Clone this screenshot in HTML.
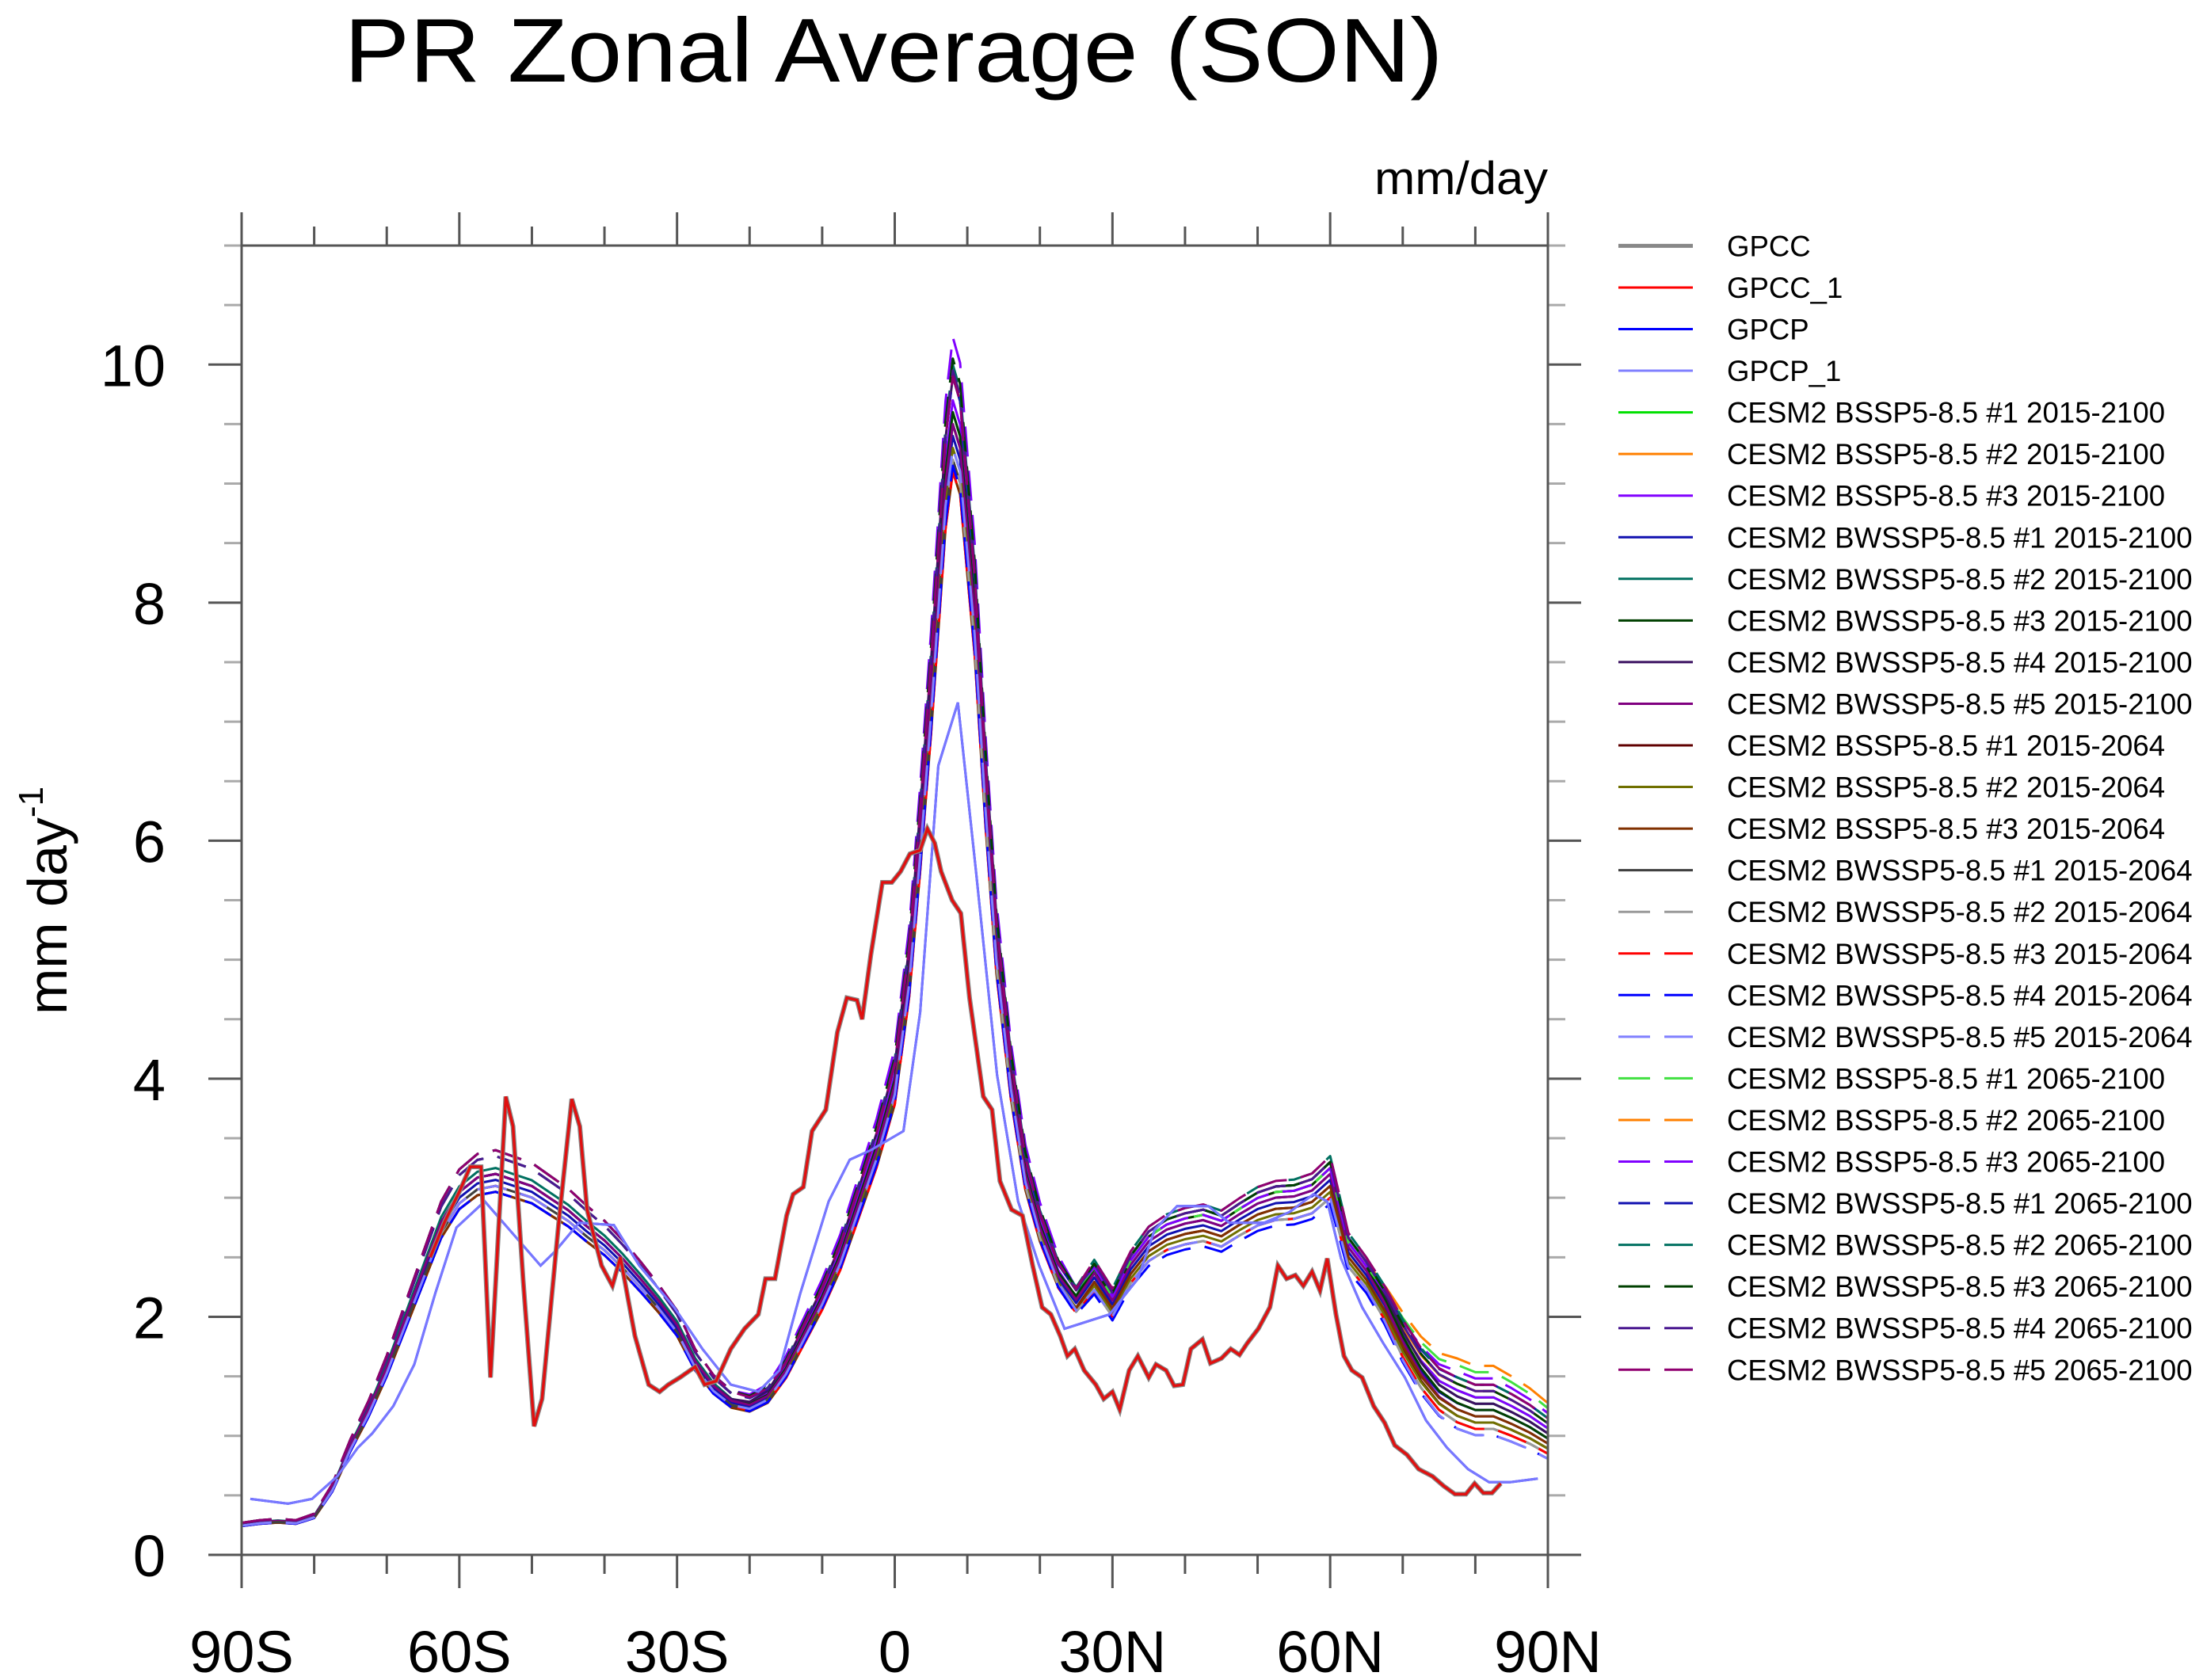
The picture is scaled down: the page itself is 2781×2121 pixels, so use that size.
<!DOCTYPE html>
<html><head><meta charset="utf-8"><title>PR Zonal Average (SON)</title>
<style>html,body{margin:0;padding:0;background:#fff}svg{display:block}text{font-family:"Liberation Sans",Arial,sans-serif;fill:#000}</style>
</head><body>
<svg id="chart" xmlns="http://www.w3.org/2000/svg" width="2781" height="2121" viewBox="0 0 2781 2121">
<rect x="0" y="0" width="2781" height="2121" fill="#fff"/>
<text x="1128" y="103" font-size="114" text-anchor="middle" textLength="1387" lengthAdjust="spacingAndGlyphs">PR Zonal Average (SON)</text>
<text x="1954" y="245" font-size="58" text-anchor="end" textLength="219" lengthAdjust="spacingAndGlyphs">mm/day</text>
<text transform="translate(84,1137) rotate(-90)" font-size="70" text-anchor="middle">mm day<tspan font-size="44" dy="-30">-1</tspan></text>
<defs><clipPath id="plotclip"><rect x="305" y="310" width="1649" height="1653"/></clipPath></defs>
<g id="axes"></g>
<g id="series" clip-path="url(#plotclip)"></g>
<rect x="305" y="310" width="1649" height="1653" fill="none" stroke="#555" stroke-width="3"/>
<g id="legend"></g>
</svg>
<script>
const NS = "http://www.w3.org/2000/svg";
// ---- data ----
const yTicks = [0, 2, 4, 6, 8, 10];
const yTickLabels = ["0", "2", "4", "6", "8", "10"];
const xTicks = [-90, -60, -30, 0, 30, 60, 90];
const xTickLabels = ["90S", "60S", "30S", "0", "30N", "60N", "90N"];

const gpccLat = [-64,-62,-60,-58.5,-57,-55.7,-53.6,-52.6,-51.2,-49.7,-48.6,-46.3,-44.5,-43.4,-42.4,-40.4,-38.9,-37.8,-35.8,-33.9,-32.4,-31.2,-29.6,-27.5,-26.2,-24.6,-22.6,-20.7,-18.8,-17.8,-16.5,-14.9,-14,-12.6,-11.4,-9.5,-7.9,-6.6,-5.2,-4.5,-3.3,-1.7,-0.4,0.8,2.1,3.5,4.5,5.5,6.4,7.9,9.1,10.3,12.2,13.4,14.5,16.1,17.6,19,20.3,21.5,22.8,23.8,24.8,26.1,27.7,28.8,30,31,32.3,33.5,35,36,37.4,38.5,39.7,40.8,42.4,43.5,45,46.3,47.5,48.6,50.1,51.7,52.8,54,55.2,56.3,57.5,58.6,59.6,60.8,61.9,63,64.4,66,67.5,68.9,70.6,72.2,74.1,75.6,77.2,78.7,79.9,81.1,82.3,83.5];
const gpccVal = [2.5,2.8,3.05,3.26,3.26,1.49,3.85,3.6,2.3,1.08,1.31,2.79,3.83,3.6,2.9,2.43,2.26,2.5,1.84,1.43,1.37,1.43,1.49,1.58,1.43,1.46,1.73,1.9,2.02,2.32,2.32,2.85,3.03,3.09,3.56,3.74,4.39,4.68,4.66,4.5,5.04,5.65,5.65,5.74,5.89,5.92,6.1,5.98,5.74,5.5,5.39,4.68,3.85,3.74,3.14,2.9,2.85,2.43,2.08,2.02,1.84,1.67,1.73,1.55,1.43,1.31,1.37,1.22,1.55,1.67,1.49,1.6,1.55,1.42,1.43,1.73,1.81,1.61,1.65,1.73,1.68,1.78,1.9,2.08,2.43,2.32,2.35,2.26,2.38,2.22,2.49,2.02,1.67,1.55,1.49,1.25,1.11,0.92,0.84,0.72,0.66,0.58,0.51,0.51,0.6,0.52,0.52,0.6];

const gpcpLat = [-88.8,-83.6,-80.3,-76.8,-74,-72,-69.1,-66.2,-63.3,-60.4,-56.5,-48.8,-46.8,-43.5,-38.7,-35.2,-30.4,-26.5,-22.6,-18.8,-15.9,-13,-9.1,-6.2,-3.3,1.2,3.5,6,8.7,11.2,14.1,17,19.9,23.4,29.6,33.5,35.8,38.9,43.2,46.1,50.9,54.4,57.7,59.6,61.5,64.4,67.3,70.3,73.2,76.1,79,81.9,84.8,88.6];
const gpcpVal = [0.47,0.43,0.47,0.66,0.9,1.02,1.25,1.6,2.2,2.75,2.97,2.43,2.55,2.79,2.77,2.43,2.08,1.73,1.43,1.37,1.55,2.2,2.97,3.32,3.4,3.56,4.56,6.63,7.16,5.74,4.03,2.97,2.43,1.9,2.02,2.32,2.73,2.93,2.93,2.79,2.79,2.88,3.03,2.97,2.49,2.08,1.78,1.49,1.13,0.9,0.72,0.61,0.61,0.64];

const modelLat = [-90,-87.5,-85,-82.5,-80,-77.5,-75,-72.5,-70,-67.5,-65,-62.5,-60,-57.5,-55,-52.5,-50,-47.5,-45,-42.5,-40,-37.5,-35,-32.5,-30,-27.5,-25,-22.5,-20,-17.5,-15,-12.5,-10,-7.5,-5,-2.5,0,2,3.5,5,6,7,8,9,10,11,12.5,14,16,18,20,22.5,25,27.5,30,32.5,35,37.5,40,42.5,45,47.5,50,52.5,55,57.5,60,62.5,65,67.5,70,72.5,75,77.5,80,82.5,85,87.5,90];
const modelBase = [0.25,0.27,0.28,0.27,0.32,0.55,0.9,1.2,1.55,1.95,2.35,2.75,3.0,3.12,3.15,3.1,3.05,2.95,2.85,2.72,2.6,2.45,2.28,2.1,1.9,1.6,1.4,1.28,1.25,1.33,1.55,1.85,2.15,2.5,2.95,3.4,3.95,4.9,6.0,7.2,8.1,9.0,9.5,9.3,8.6,7.9,6.4,5.1,4.0,3.2,2.75,2.35,2.15,2.38,2.15,2.45,2.65,2.75,2.8,2.83,2.78,2.88,2.97,3.02,3.03,3.08,3.22,2.6,2.4,2.15,1.85,1.6,1.42,1.33,1.27,1.27,1.2,1.12,1.02];

const modelNames = ["CESM2 BSSP5-8.5 #1 2015-2100","CESM2 BSSP5-8.5 #2 2015-2100","CESM2 BSSP5-8.5 #3 2015-2100","CESM2 BWSSP5-8.5 #1 2015-2100","CESM2 BWSSP5-8.5 #2 2015-2100","CESM2 BWSSP5-8.5 #3 2015-2100","CESM2 BWSSP5-8.5 #4 2015-2100","CESM2 BWSSP5-8.5 #5 2015-2100","CESM2 BSSP5-8.5 #1 2015-2064","CESM2 BSSP5-8.5 #2 2015-2064","CESM2 BSSP5-8.5 #3 2015-2064","CESM2 BWSSP5-8.5 #1 2015-2064","CESM2 BWSSP5-8.5 #2 2015-2064","CESM2 BWSSP5-8.5 #3 2015-2064","CESM2 BWSSP5-8.5 #4 2015-2064","CESM2 BWSSP5-8.5 #5 2015-2064","CESM2 BSSP5-8.5 #1 2065-2100","CESM2 BSSP5-8.5 #2 2065-2100","CESM2 BSSP5-8.5 #3 2065-2100","CESM2 BWSSP5-8.5 #1 2065-2100","CESM2 BWSSP5-8.5 #2 2065-2100","CESM2 BWSSP5-8.5 #3 2065-2100","CESM2 BWSSP5-8.5 #4 2065-2100","CESM2 BWSSP5-8.5 #5 2065-2100"];
// per-series peak values: SH peak (55S), equatorial peak (8N), NH peak (60N), Arctic (85N)
const shPeak  = [3.2,3.2,3.2,3.15,3.25,3.2,3.2,3.2, 3.05,3.1,3.05,3.1, 3.1,3.1,3.05,3.1, 3.4,3.35,3.4,3.35,3.35,3.4,3.35,3.4];
const eqPeak  = [9.6,9.5,9.7,9.4,9.5,9.6,9.9,9.5, 9.2,9.3,9.1,9.2, 9.2,9.1,9.15,9.3, 10.05,9.95,10.23,9.9,10.0,10.05,9.95,9.9];
const nhPeak  = [3.2,3.25,3.2,3.15,3.3,3.25,3.3,3.2, 3.1,3.05,3.1,3.0, 3.0,3.0,2.95,3.0, 3.25,3.3,3.25,3.3,3.35,3.3,3.3,3.35];
const arcticVal = [1.25,1.3,1.25,1.15,1.2,1.15,1.2,1.1, 1.05,1.05,1.1,1.0, 1.0,1.0,0.95,0.95, 1.45,1.5,1.4,1.35,1.35,1.3,1.3,1.35];

// ---- styles (not data) ----
const modelColors = ["#00e000","#ff8000","#8000ff","#1010b0","#007060","#004000","#3a1060","#800080","#600000","#707000","#803000","#404040","#9a9a9a","#ff0000","#0000ff","#8080ff","#40e040","#ff8000","#8000ff","#1010b0","#007060","#004000","#4a1890","#900070"];
const modelDashed = [0,0,0,0,0,0,0,0,0,0,0,0,1,1,1,1,1,1,1,1,1,1,1,1];

// ---- axis functions ----
const X0 = 305, X1 = 1954, Y0 = 1963, Y1 = 310, YMAX = 11;
const xS = lat => X0 + (lat + 90) / 180 * (X1 - X0);
const yS = v => Y0 - v / YMAX * (Y0 - Y1);

function mk(tag, attrs, parent) {
  const e = document.createElementNS(NS, tag);
  for (const k in attrs) e.setAttribute(k, attrs[k]);
  parent.appendChild(e);
  return e;
}
const axes = document.getElementById("axes");
const series = document.getElementById("series");
const legend = document.getElementById("legend");

for (let v = 0; v <= YMAX + 1e-9; v += 0.5) {
  const major = Math.abs(v / 2 - Math.round(v / 2)) < 1e-9;
  const len = major ? 42 : 22;
  const col = major ? "#555" : "#aaa";
  const y = yS(v);
  const t1 = mk("line", {x1: X0 - len, x2: X0, y1: y, y2: y, stroke: col, "stroke-width": 3}, axes);
  
  
  const t2 = mk("line", {x1: X1, x2: X1 + len, y1: y, y2: y, stroke: col, "stroke-width": 3}, axes);
  
  
}
yTicks.forEach((v, i) => {
  const t = mk("text", {x: 209, y: yS(v) + 27, "font-size": 74, "text-anchor": "end"}, axes);
  t.textContent = yTickLabels[i];
  
  
});
for (let lat = -90; lat <= 90; lat += 10) {
  const major = lat % 30 === 0;
  const len = major ? 42 : 24;
  const x = xS(lat);
  const b = mk("line", {x1: x, x2: x, y1: Y0, y2: Y0 + len, stroke: "#555", "stroke-width": 3}, axes);
  
  
  const tp = mk("line", {x1: x, x2: x, y1: Y1 - len, y2: Y1, stroke: "#555", "stroke-width": 3}, axes);
  
  
}
xTicks.forEach((lat, i) => {
  const t = mk("text", {x: xS(lat), y: 2111, "font-size": 74, "text-anchor": "middle"}, axes);
  t.textContent = xTickLabels[i];
  
  
});

function pathFrom(lats, vals) {
  return lats.map((l, i) => (i ? "L" : "M") + xS(l).toFixed(1) + "," + yS(vals[i]).toFixed(1)).join("");
}
function baseAt(lat) {
  const i = modelLat.indexOf(lat);
  return modelBase[i];
}
function interp(x, xs, ys) {
  if (x <= xs[0]) return ys[0];
  for (let i = 1; i < xs.length; i++) if (x <= xs[i]) {
    const t = (x - xs[i-1]) / (xs[i] - xs[i-1]);
    return ys[i-1] + t * (ys[i] - ys[i-1]);
  }
  return ys[ys.length - 1];
}

modelNames.forEach((name, s) => {
  const rSh = shPeak[s] / baseAt(-55), rEq = eqPeak[s] / baseAt(8), rNh = nhPeak[s] / baseAt(60), rAr = arcticVal[s] / baseAt(85);
  const kl = [-90, -25, -15, 22, 28, 66, 78, 90];
  const kr = [rSh, rSh, rEq, rEq, rNh, rNh, rAr, rAr];
  const vals = modelLat.map((l, i) => modelBase[i] * interp(l, kl, kr));
  const p = mk("path", {d: pathFrom(modelLat, vals), fill: "none", stroke: modelColors[s], "stroke-width": 3, "stroke-linejoin": "round"}, series);
  if (modelDashed[s]) p.setAttribute("stroke-dasharray", "38 18");
  
  
});
const gp = mk("path", {d: pathFrom(gpcpLat, gpcpVal), fill: "none", stroke: "#0000ff", "stroke-width": 3}, series);


const gp1 = mk("path", {d: pathFrom(gpcpLat, gpcpVal), fill: "none", stroke: "#7878ff", "stroke-width": 3}, series);


const gc = mk("path", {d: pathFrom(gpccLat, gpccVal), fill: "none", stroke: "#888", "stroke-width": 6}, series);


const gc1 = mk("path", {d: pathFrom(gpccLat, gpccVal), fill: "none", stroke: "#e01010", "stroke-width": 3.5}, series);



const legNames = ["GPCC", "GPCC_1", "GPCP", "GPCP_1"].concat(modelNames);
const legColors = ["#888", "#ff0000", "#0000ff", "#8080ff"].concat(modelColors);
const legWidths = [5, 3, 3, 3].concat(modelNames.map(() => 3));
const legDash = [0, 0, 0, 0].concat(modelDashed);
legNames.forEach((n, i) => {
  const y = 310.4 + i * 52.55;
  const g = mk("g", {}, legend);
  
  
  const l = mk("line", {x1: 2043, x2: 2137, y1: y, y2: y, stroke: legColors[i], "stroke-width": legWidths[i]}, g);
  if (legDash[i]) l.setAttribute("stroke-dasharray", "40 18");
  
  
  const t = mk("text", {x: 2180, y: y + 13, "font-size": 36.6}, g);
  t.textContent = n;
  
  
});
</script>
</body></html>
